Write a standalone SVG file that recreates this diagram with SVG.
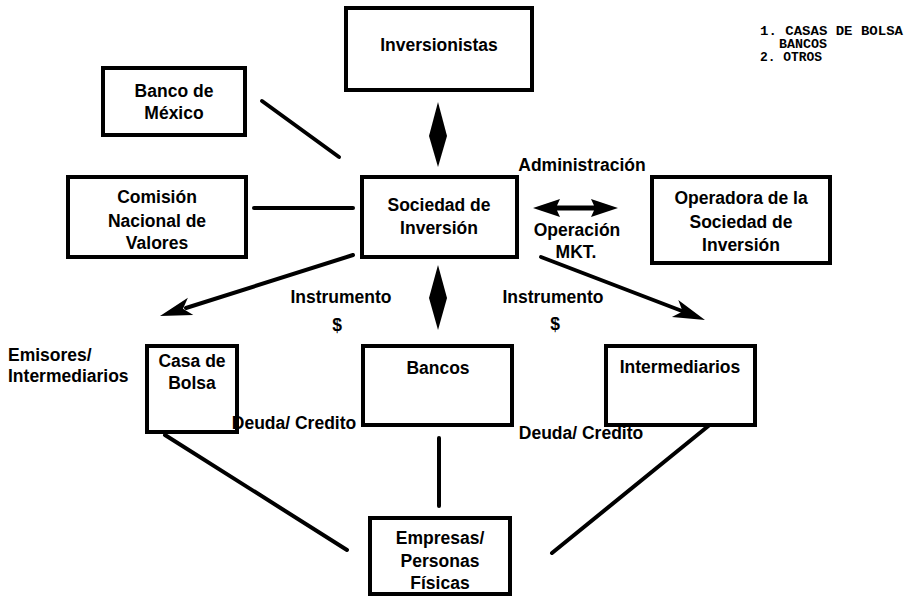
<svg xmlns="http://www.w3.org/2000/svg" width="906" height="596" viewBox="0 0 906 596">
<style>
.box{fill:#fff;stroke:#000;stroke-width:4}
.t{font-family:"Liberation Sans",Arial,sans-serif;font-weight:bold;font-size:17.5px;fill:#000;text-anchor:middle}
.tl{font-family:"Liberation Sans",Arial,sans-serif;font-weight:bold;font-size:17.5px;fill:#000}
.ln{stroke:#000;stroke-width:4;fill:none;stroke-linecap:round}
.head{fill:#000}
.m{font-family:"Liberation Mono","Courier New",monospace;font-weight:bold;font-size:12px;fill:#000}
</style>
<rect width="906" height="596" fill="#fff"/>
<g id="connectors">
<line class="ln" x1="262" y1="101" x2="339" y2="157"/>
<line class="ln" x1="254" y1="208" x2="353" y2="208" stroke-width="5"/>
<polygon class="head" points="438,102 447,136 438,167 429,136"/>
<polygon class="head" points="438,265 447,298 438,330 429,298"/>
<line class="ln" x1="353" y1="255" x2="186" y2="308" stroke-width="5"/>
<polygon class="head" points="160,316 187.9,297.7 183,308.7 193.3,314.9"/>
<line class="ln" x1="541" y1="257" x2="682" y2="311" stroke-width="5"/>
<polygon class="head" points="705,320 678.3,300.1 682.6,311.4 671.9,316.9"/>
<path d="M533,208 L560,199 L557,205.5 L594,205.5 L591,199 L618,208 L591,217 L594,210.5 L557,210.5 L560,217 Z" fill="#000"/>
<line class="ln" x1="165" y1="435" x2="347" y2="550"/>
<line class="ln" x1="439" y1="438" x2="439" y2="506" stroke-width="3.5"/>
<line class="ln" x1="712" y1="423" x2="552" y2="553"/>
</g>
<g id="inversionistas">
<rect class="box" x="346" y="8" width="186" height="82"/>
<text class="t" x="439" y="51">Inversionistas</text>
</g>
<g id="banco-mexico">
<rect class="box" x="103" y="68" width="142" height="67"/>
<text class="t" x="174" y="97">Banco de</text>
<text class="t" x="174" y="119">México</text>
</g>
<g id="comision">
<rect class="box" x="68" y="177" width="178" height="80"/>
<text class="t" x="157" y="203">Comisión</text>
<text class="t" x="157" y="227">Nacional de</text>
<text class="t" x="157" y="249">Valores</text>
</g>
<g id="sociedad">
<rect class="box" x="362" y="177" width="155" height="80"/>
<text class="t" x="439" y="211">Sociedad de</text>
<text class="t" x="439" y="234">Inversión</text>
</g>
<g id="operadora">
<rect class="box" x="652" y="177" width="178" height="86"/>
<text class="t" x="741" y="204">Operadora de la</text>
<text class="t" x="741" y="228">Sociedad de</text>
<text class="t" x="741" y="251">Inversión</text>
</g>
<g id="casa-bolsa">
<rect class="box" x="147" y="346" width="90" height="86"/>
<text class="t" x="192" y="367">Casa de</text>
<text class="t" x="192" y="389">Bolsa</text>
</g>
<g id="bancos">
<rect class="box" x="363" y="346" width="149" height="79"/>
<text class="t" x="438" y="374">Bancos</text>
</g>
<g id="intermediarios">
<rect class="box" x="606" y="346" width="149" height="79"/>
<text class="t" x="680" y="373">Intermediarios</text>
</g>
<g id="empresas">
<rect class="box" x="370" y="518" width="140" height="76"/>
<text class="t" x="440" y="544">Empresas/</text>
<text class="t" x="440" y="567">Personas</text>
<text class="t" x="440" y="589">Físicas</text>
</g>
<g id="labels">
<text class="t" x="582" y="171">Administración</text>
<text class="t" x="577" y="236">Operación</text>
<text class="t" x="576" y="258">MKT.</text>
<text class="t" x="341" y="303">Instrumento</text>
<text class="t" x="337" y="331">$</text>
<text class="t" x="553" y="303">Instrumento</text>
<text class="t" x="555" y="330">$</text>
<text class="tl" x="8" y="361">Emisores/</text>
<text class="tl" x="8" y="382">Intermediarios</text>
<text class="t" x="294" y="429">Deuda/ Credito</text>
<text class="t" x="581" y="439">Deuda/ Credito</text>
<text class="m" x="760" y="35" textLength="143" lengthAdjust="spacingAndGlyphs">1. CASAS DE BOLSA</text>
<text class="m" x="779" y="48" textLength="48" lengthAdjust="spacingAndGlyphs">BANCOS</text>
<text class="m" x="760" y="61" textLength="62" lengthAdjust="spacingAndGlyphs">2. OTROS</text>
</g>
</svg>
